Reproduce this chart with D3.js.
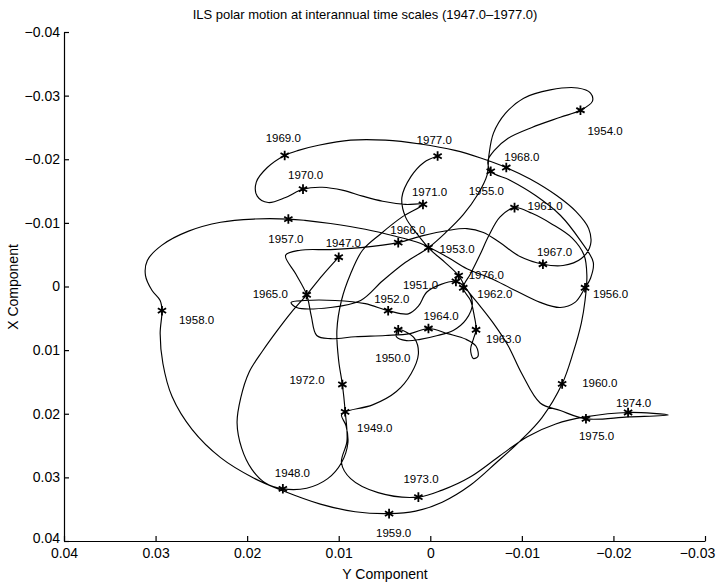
<!DOCTYPE html>
<html>
<head>
<meta charset="utf-8">
<script src="https://cdn.jsdelivr.net/npm/d3@7/dist/d3.min.js"></script>
<style>
  body { margin: 0; background: #fff; }
  text { font-family: "Liberation Sans", Arial, Helvetica, sans-serif; fill: #000; }
</style>
</head>
<body>
<svg id="chart"></svg>
<script>
// polar path, Y component (horizontal) and X component (vertical)
var pathY = [
  0.0100, 0.0118, 0.0135, 0.0152, 0.0167, 0.0183, 0.0198, 0.0207, 0.0211, 0.0206, 0.0195, 0.0180,
  0.0161, 0.0135, 0.0112, 0.0097, 0.0090, 0.0092, 0.0097,
  0.0093, 0.0063, 0.0037, 0.0021, 0.0013, 0.0017, 0.0027,
  0.0035, 0.0037, 0.0026, 0.0011, -0.0008, -0.0025, -0.0039, -0.0046, -0.0040,
  -0.0028, -0.0011, 0.0004, 0.0013, 0.0024,
  0.0046, 0.0071, 0.0104, 0.0137, 0.0152, 0.0146, 0.0109, 0.0076, 0.0052, 0.0027,
  0.0002, -0.0017, -0.0036, -0.0052, -0.0062, -0.0064, -0.0069, -0.0082, -0.0102, -0.0131, -0.0161, -0.0175, -0.0177,
  -0.0164, -0.0142, -0.0111, -0.0085, -0.0070, -0.0063,
  -0.0066, -0.0087, -0.0115, -0.0142, -0.0164, -0.0178, -0.0175,
  -0.0169, -0.0158, -0.0142, -0.0120, -0.0091, -0.0066, -0.0040, -0.0019, 0.0011, 0.0038, 0.0071, 0.0109, 0.0137,
  0.0155, 0.0193, 0.0229, 0.0264, 0.0293, 0.0309, 0.0311, 0.0304, 0.0295,
  0.0293, 0.0295, 0.0292, 0.0282, 0.0260, 0.0229, 0.0193, 0.0161, 0.0120, 0.0082,
  0.0045, 0.0016, -0.0013, -0.0044, -0.0072, -0.0098, -0.0122,
  -0.0144, -0.0156, -0.0165, -0.0169, -0.0171, -0.0168, -0.0155, -0.0133, -0.0111,
  -0.0092, -0.0076, -0.0064, -0.0054, -0.0044,
  -0.0036, -0.0044, -0.0048,
  -0.0050, -0.0047, -0.0044, -0.0047, -0.0052, -0.0050, -0.0039, -0.0019,
  0.0002, 0.0022, 0.0049, 0.0082, 0.0109, 0.0124, 0.0130,
  0.0135, 0.0147, 0.0158, 0.0142, 0.0109, 0.0076,
  0.0035, 0.0008, -0.0019, -0.0040, -0.0058, -0.0076, -0.0098,
  -0.0123, -0.0145, -0.0165, -0.0175, -0.0173, -0.0159, -0.0138, -0.0109,
  -0.0083, -0.0055, -0.0027, 0.0011, 0.0049, 0.0087, 0.0122, 0.0144,
  0.0159, 0.0178, 0.0190, 0.0189, 0.0177, 0.0158,
  0.0139, 0.0118, 0.0095, 0.0074, 0.0052, 0.0027,
  0.0008, 0.0031, 0.0054, 0.0074, 0.0087, 0.0097, 0.0102, 0.0100,
  0.0096, 0.0093, 0.0091, 0.0097, 0.0087, 0.0057,
  0.0013, -0.0013, -0.0044, -0.0076, -0.0106, -0.0137, -0.0169,
  -0.0216, -0.0260, -0.0216,
  -0.0170, -0.0142, -0.0120, -0.0100, -0.0085, -0.0069, -0.0054, -0.0040,
  -0.0031, -0.0016, 0.0000, 0.0014, 0.0027, 0.0031, 0.0021, 0.0007,
  -0.0008
];
var pathX = [
  -0.0046, -0.0017, 0.0013, 0.0041, 0.0069, 0.0101, 0.0135, 0.0175, 0.0214, 0.0254, 0.0287, 0.0309,
  0.0318, 0.0317, 0.0302, 0.0277, 0.0246, 0.0219, 0.0202,
  0.0197, 0.0186, 0.0165, 0.0137, 0.0106, 0.0082, 0.0071,
  0.0068, 0.0079, 0.0085, 0.0083, 0.0077, 0.0069, 0.0052, 0.0027, 0.0005,
  -0.0008, -0.0003, 0.0009, 0.0031, 0.0043,
  0.0038, 0.0027, 0.0022, 0.0022, 0.0025, 0.0033, 0.0033, 0.0022, -0.0009, -0.0038,
  -0.0061, -0.0085, -0.0113, -0.0145, -0.0175, -0.0206, -0.0241, -0.0272, -0.0296, -0.0309, -0.0312, -0.0304, -0.0291,
  -0.0277, -0.0266, -0.0250, -0.0233, -0.0214, -0.0198,
  -0.0181, -0.0167, -0.0143, -0.0112, -0.0072, -0.0038, -0.0013,
  0.0002, 0.0025, 0.0033, 0.0025, 0.0005, -0.0013, -0.0028, -0.0046, -0.0068, -0.0079, -0.0090, -0.0099, -0.0104,
  -0.0106, -0.0106, -0.0101, -0.0087, -0.0065, -0.0041, -0.0017, 0.0006, 0.0022,
  0.0038, 0.0074, 0.0121, 0.0173, 0.0225, 0.0269, 0.0301, 0.0321, 0.0342, 0.0354,
  0.0357, 0.0353, 0.0339, 0.0312, 0.0277, 0.0243, 0.0206,
  0.0153, 0.0104, 0.0057, 0.0022, -0.0017, -0.0049, -0.0076, -0.0098, -0.0115,
  -0.0124, -0.0109, -0.0080, -0.0049, -0.0020,
  0.0002, 0.0022, 0.0046,
  0.0068, 0.0083, 0.0099, 0.0113, 0.0110, 0.0094, 0.0083, 0.0074,
  0.0066, 0.0074, 0.0077, 0.0079, 0.0082, 0.0077, 0.0046,
  0.0013, -0.0020, -0.0049, -0.0057, -0.0058, -0.0061,
  -0.0069, -0.0080, -0.0088, -0.0091, -0.0085, -0.0069, -0.0047,
  -0.0035, -0.0033, -0.0044, -0.0066, -0.0091, -0.0118, -0.0143, -0.0169,
  -0.0187, -0.0202, -0.0214, -0.0224, -0.0230, -0.0230, -0.0222, -0.0214,
  -0.0206, -0.0187, -0.0164, -0.0142, -0.0132, -0.0140,
  -0.0153, -0.0156, -0.0151, -0.0142, -0.0134, -0.0129,
  -0.0129, -0.0109, -0.0083, -0.0057, -0.0020, 0.0022, 0.0069, 0.0117,
  0.0154, 0.0195, 0.0243, 0.0277, 0.0302, 0.0324,
  0.0331, 0.0320, 0.0299, 0.0266, 0.0236, 0.0216, 0.0205,
  0.0198, 0.0202, 0.0205,
  0.0208, 0.0195, 0.0183, 0.0137, 0.0093, 0.0058, 0.0030, 0.0005,
  -0.0017, -0.0038, -0.0058, -0.0082, -0.0109, -0.0140, -0.0173, -0.0195,
  -0.0205
];

// yearly positions (1947.0 - 1977.0)
var years = [1947, 1948, 1949, 1950, 1951, 1952, 1953, 1954, 1955, 1956, 1957, 1958, 1959, 1960, 1961,
  1962, 1963, 1964, 1965, 1966, 1967, 1968, 1969, 1970, 1971, 1972, 1973, 1974, 1975, 1976, 1977];
var yearY = [0.0100, 0.0161, 0.0093, 0.0035, -0.0028, 0.0046, 0.0002, -0.0164, -0.0066, -0.0169, 0.0155, 0.0293,
  0.0045, -0.0144, -0.0092, -0.0036, -0.0050, 0.0002, 0.0135, 0.0035, -0.0123, -0.0083, 0.0159, 0.0139,
  0.0008, 0.0096, 0.0013, -0.0216, -0.0170, -0.0031, -0.0008];
var yearX = [-0.0046, 0.0318, 0.0197, 0.0068, -0.0008, 0.0038, -0.0061, -0.0277, -0.0181, 0.0002, -0.0106, 0.0038,
  0.0357, 0.0153, -0.0124, 0.0002, 0.0068, 0.0066, 0.0013, -0.0069, -0.0035, -0.0187, -0.0206, -0.0153,
  -0.0129, 0.0154, 0.0331, 0.0198, 0.0208, -0.0017, -0.0205];

// label placement next to each star, in pixels
var labelDx = [-13, -8, 12, -23, -53, -14, 11, 7, -22, 8, -20, 17, -13, 20, 13, 14, 10, -5, -54, -8, -6, -2, -19, -15, -11, -53, -15, -12, -7, 10, -21];
var labelDy = [-14, -16, 16, 28, 3, -12, 1, 21, 20, 6, 20, 9, 19, -1, -2, 6, 9, -13, -1, -13, -12, -11, -18, -14, -13, -5, -18, -10, 17, -1, -16];

var xTicks = [0.04, 0.03, 0.02, 0.01, 0, -0.01, -0.02, -0.03];
var yTicks = [-0.04, -0.03, -0.02, -0.01, 0, 0.01, 0.02, 0.03, 0.04];

var W = 720, H = 582;
var margin = {top: 32, right: 15, bottom: 41, left: 64};

var svg = d3.select("#chart")
    .attr("width", W)
    .attr("height", H);

var x = d3.scaleLinear().domain([0.04, -0.03]).range([margin.left, W - margin.right]);
var y = d3.scaleLinear().domain([-0.04, 0.04]).range([margin.top, H - margin.bottom]);

var fmt = d3.format(".2~f");

var xAxis = svg.append("g")
    .attr("transform", "translate(0," + (H - margin.bottom) + ")")
    .call(d3.axisBottom(x).tickValues(xTicks).tickFormat(fmt).tickSizeInner(-5).tickSizeOuter(0).tickPadding(7));
var yAxis = svg.append("g")
    .attr("transform", "translate(" + margin.left + ",0)")
    .call(d3.axisLeft(y).tickValues(yTicks).tickFormat(fmt).tickSizeInner(-5).tickSizeOuter(0).tickPadding(4));

svg.selectAll(".tick text").style("font-size", "14px");
svg.selectAll(".domain, .tick line").attr("stroke", "#000").attr("stroke-width", 1.2);

// last x label sits a bit left so it stays on the page
xAxis.selectAll(".tick text")
    .filter(function(d){ return d === -0.03; })
    .attr("dx", "-8");
// keep the two corner labels apart
yAxis.selectAll(".tick text")
    .filter(function(d){ return d === 0.04; })
    .attr("dy", "0.1em");

// the path
var pts = pathY.map(function(d, i){ return [d, pathX[i]]; });
var line = d3.line()
    .x(function(d){ return x(d[0]); })
    .y(function(d){ return y(d[1]); })
    .curve(d3.curveCatmullRom.alpha(0.5));

svg.append("path")
    .datum(pts)
    .attr("d", line)
    .attr("fill", "none")
    .attr("stroke", "#000")
    .attr("stroke-width", 1.15);

// yearly stars
var star = d3.symbol().type(d3.symbolAsterisk).size(64);
svg.selectAll("path.star")
    .data(years)
    .enter()
    .append("path")
    .attr("class", "star")
    .attr("d", star)
    .attr("transform", function(d, i){ return "translate(" + x(yearY[i]) + "," + y(yearX[i]) + ")"; })
    .attr("fill", "none")
    .attr("stroke", "#000")
    .attr("stroke-width", 1.8);

svg.selectAll("text.yr")
    .data(years)
    .enter()
    .append("text")
    .attr("class", "yr")
    .attr("x", function(d, i){ return x(yearY[i]) + labelDx[i]; })
    .attr("y", function(d, i){ return y(yearX[i]) + labelDy[i]; })
    .attr("dy", "0.36em")
    .style("font-size", "11.5px")
    .text(function(d){ return d3.format(".1f")(d); });

// titles
svg.append("text")
    .attr("x", 365)
    .attr("y", 19)
    .attr("text-anchor", "middle")
    .style("font-size", "13px")
    .text("ILS polar motion at interannual time scales (1947.0\u20131977.0)");

svg.append("text")
    .attr("x", 385)
    .attr("y", 579)
    .attr("text-anchor", "middle")
    .style("font-size", "14px")
    .text("Y  Component");

svg.append("text")
    .attr("transform", "translate(18,287) rotate(-90)")
    .attr("text-anchor", "middle")
    .style("font-size", "14px")
    .text("X  Component");
</script>
</body>
</html>
